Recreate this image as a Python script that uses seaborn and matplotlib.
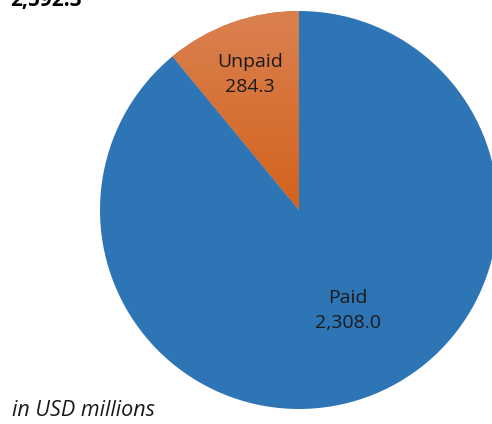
import matplotlib
matplotlib.use("Agg")
import matplotlib.pyplot as plt
import matplotlib.colors as mcolors
import numpy as np
import seaborn as sns

sns.set_theme(style="white")
plt.rcParams['font.family'] = ['Open Sans', 'DejaVu Sans']

# data
categories = ["Unpaid", "Paid"]
values = [284.3, 2308.0]
total_label = "2,592.3"
colors = ["#D8692E", "#2E75B6"]

fig = plt.figure(figsize=(4.92, 4.24), dpi=100)
# axes placed so the pie runs past the right edge like the reference
ax = fig.add_axes([100 / 492, 15 / 424, 398 / 492, 398 / 424])

wedges, _ = ax.pie(values, colors=colors, startangle=90, counterclock=True,
                   wedgeprops=dict(linewidth=0))
ax.set_xlim(-1, 1)
ax.set_ylim(-1, 1)
ax.set_aspect("equal")
ax.axis("off")

# soft vertical gradient on the unpaid slice
grad_cmap = mcolors.LinearSegmentedColormap.from_list("og", ["#D3621D", "#DA8150"])
grad = np.linspace(0, 1, 256).reshape(-1, 1)
img = ax.imshow(grad, cmap=grad_cmap, origin="lower", aspect="auto",
                extent=(-0.7, 0.05, 0.0, 1.0), zorder=wedges[0].get_zorder() + 0.1)
img.set_clip_path(wedges[0])
ax.set_xlim(-1, 1)
ax.set_ylim(-1, 1)

# slice labels
label_pos = [(-0.245, 0.68), (0.245, -0.505)]
for name, val, (x, y) in zip(categories, values, label_pos):
    ax.text(x, y, f"{name}\n{val:,.1f}", ha="center", va="center",
            fontsize=14, color="#1a1a1a", linespacing=1.5, zorder=5)

fig.text(10 / 492, 1 - 6 / 424, total_label, ha="left", va="baseline",
         fontsize=15, fontweight="bold", color="black")
fig.text(12 / 492, 1 - 411 / 424, "in USD millions", ha="left", va="center",
         fontsize=15.5, fontstyle="italic", color="#1a1a1a")

fig.savefig("out.png", dpi=100)
